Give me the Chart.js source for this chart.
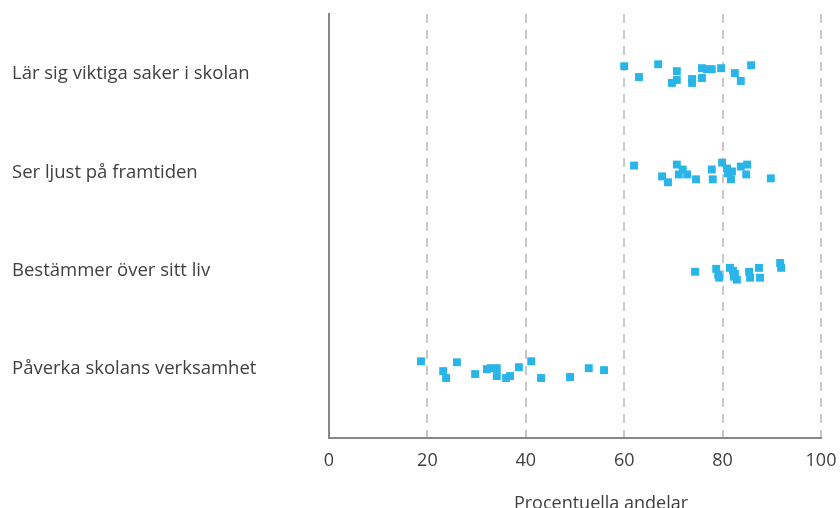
<!DOCTYPE html>
<html lang="sv">
<head>
<meta charset="UTF-8">
<title>Procentuella andelar</title>
<script src="https://cdn.jsdelivr.net/npm/chart.js@4"></script>
<style>
  html, body { margin: 0; padding: 0; background: #fff; overflow: hidden; }
  #wrap { width: 840px; height: 530px; }
</style>
</head>
<body>
<div id="wrap"><canvas id="myChart" width="840" height="530"></canvas></div>
<script>
// categories, bottom to top (y position 1..4)
const categories = [
  'Påverka skolans verksamhet',
  'Bestämmer över sitt liv',
  'Ser ljust på framtiden',
  'Lär sig viktiga saker i skolan'
];
const xTicks = [0, 20, 40, 60, 80, 100];
const xTitle = 'Procentuella andelar';

// values (x = percent, y = row position incl. small vertical spread)
const paverkaX = [18.7, 23.2, 23.8, 26.0, 29.7, 32.1, 32.9, 34.1, 34.1, 36.0, 36.8, 38.6, 41.1, 43.1, 49.0, 52.8, 55.9];
const paverkaY = [1.08, 0.98, 0.91, 1.07, 0.95, 1.00, 1.01, 1.01, 0.93, 0.91, 0.93, 1.02, 1.08, 0.91, 0.92, 1.01, 0.99];

const bestammerX = [74.4, 78.7, 79.1, 79.3, 81.5, 82.1, 82.3, 82.9, 82.5, 85.4, 85.6, 87.4, 87.6, 91.7, 91.9];
const bestammerY = [1.99, 2.02, 1.96, 1.93, 2.03, 2.00, 1.94, 1.91, 1.97, 1.99, 1.93, 2.03, 1.93, 2.08, 2.03];

const serLjustX = [62.0, 67.7, 68.9, 70.7, 71.1, 71.9, 72.8, 74.6, 77.8, 78.0, 79.9, 80.9, 81.1, 81.9, 81.7, 83.7, 85.0, 84.8, 89.8];
const serLjustY = [3.07, 2.96, 2.90, 3.08, 2.98, 3.03, 2.98, 2.93, 3.03, 2.93, 3.10, 3.04, 2.99, 3.01, 2.93, 3.06, 3.08, 2.98, 2.94];

const larSigX = [60.0, 63.0, 66.9, 70.7, 69.7, 70.7, 73.8, 73.8, 75.8, 75.8, 76.8, 77.8, 79.7, 82.5, 83.7, 85.8];
const larSigY = [4.08, 3.97, 4.10, 4.03, 3.91, 3.94, 3.95, 3.91, 4.06, 3.96, 4.05, 4.05, 4.06, 4.01, 3.93, 4.09];

const color = '#2AB5E8';
const textColor = '#404040';
const font = "'Open Sans', 'Noto Sans', sans-serif";

function toPoints(xs, ys) {
  return xs.map((x, i) => ({ x: x, y: ys[i] }));
}

function makeSet(label, xs, ys) {
  return {
    label: label,
    data: toPoints(xs, ys),
    pointStyle: 'rect',
    pointRadius: 5.6,
    pointHoverRadius: 5.6,
    backgroundColor: color,
    borderColor: color,
    borderWidth: 0
  };
}

// x axis title sits a bit right of centre and is cut by the bottom edge, like the original
const axisTitle = {
  id: 'axisTitle',
  afterDraw(chart) {
    const { ctx, chartArea } = chart;
    ctx.save();
    ctx.font = '18px ' + font;
    ctx.fillStyle = textColor;
    ctx.textAlign = 'center';
    ctx.textBaseline = 'middle';
    ctx.fillText(xTitle, (chartArea.left + chartArea.right) / 2 + 26, 504);
    ctx.restore();
  }
};

new Chart(document.getElementById('myChart').getContext('2d'), {
  type: 'scatter',
  data: {
    datasets: [
      makeSet(categories[0], paverkaX, paverkaY),
      makeSet(categories[1], bestammerX, bestammerY),
      makeSet(categories[2], serLjustX, serLjustY),
      makeSet(categories[3], larSigX, larSigY)
    ]
  },
  options: {
    responsive: false,
    animation: false,
    events: [],
    layout: { padding: { left: 12, right: 19, top: 14, bottom: 0 } },
    plugins: {
      legend: { display: false },
      tooltip: { enabled: false }
    },
    scales: {
      x: {
        type: 'linear',
        min: 0,
        max: 100,
        afterBuildTicks: axis => { axis.ticks = xTicks.map(v => ({ value: v })); },
        afterFit: axis => {
          axis.height = 92;
          axis.paddingLeft = 0;
          axis.paddingRight = 0;
        },
        grid: {
          color: ctx => ctx.tick && ctx.tick.value === 0 ? 'rgba(0,0,0,0)' : '#C8C8C8',
          lineWidth: 2,
          drawTicks: false
        },
        border: { display: true, color: '#878787', width: 2, dash: [9, 7] },
        ticks: {
          padding: 12,
          color: textColor,
          font: { family: font, size: 18 }
        }
      },
      y: {
        type: 'linear',
        min: 0.3,
        max: 4.61,
        afterBuildTicks: axis => { axis.ticks = categories.map((c, i) => ({ value: i + 1 })); },
        afterFit: axis => { axis.width = 317; },
        grid: { display: false },
        border: { display: true, color: '#878787', width: 2 },
        ticks: {
          crossAlign: 'far',
          color: textColor,
          font: { family: font, size: 18.5 },
          callback: v => categories[v - 1]
        }
      }
    }
  },
  plugins: [axisTitle]
});
</script>
</body>
</html>
